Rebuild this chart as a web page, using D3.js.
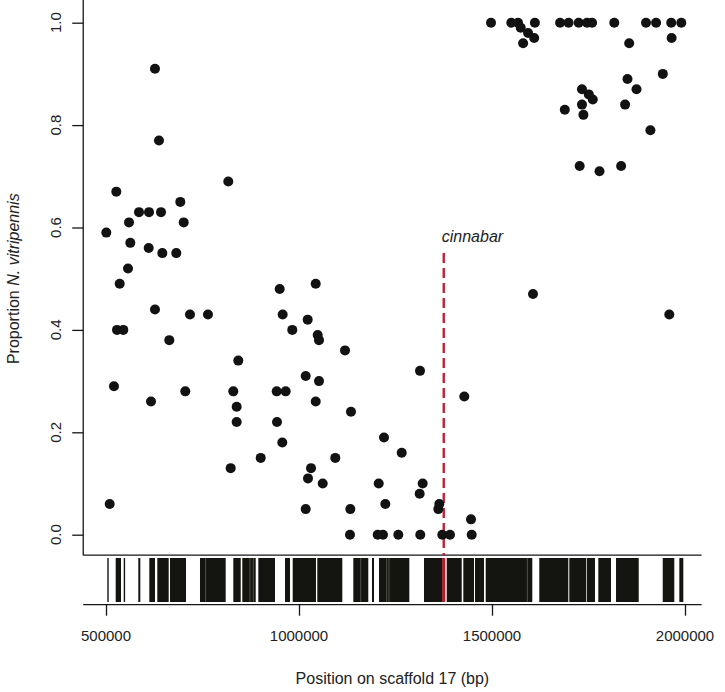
<!DOCTYPE html>
<html>
<head>
<meta charset="utf-8">
<script src="https://cdn.jsdelivr.net/npm/d3@7"></script>
<style>
  html, body { margin: 0; padding: 0; background: #fff; }
  svg { display: block; font-family: "Liberation Sans", Arial, Helvetica, sans-serif; }
</style>
</head>
<body>
<svg id="chart" width="725" height="692"></svg>
<script>
// ---------- data ----------
const pointPos = [
  500800, 509600, 520700, 526700, 535500, 528500, 544800, 557000, 559600, 563000,
  585500, 611400, 642500, 610600, 616600, 626900, 626900, 637300, 645900, 664000,
  682100, 692500, 701300, 705400, 717600, 764200, 816800, 823000, 829800, 838500,
  838500, 842700, 900800, 942200, 943000, 950000, 956700, 957700, 965500, 982600,
  1017400, 1017400, 1022500, 1023300, 1031100, 1043300, 1043300, 1048400, 1051800, 1051800,
  1061400, 1094000, 1119200, 1132100, 1133000, 1134700, 1203900, 1206500, 1217600, 1220200,
  1223600, 1257300, 1266100, 1312600, 1313500, 1314200, 1320400, 1360900, 1363500, 1371200,
  1391200, 1428200, 1445600, 1447400, 1606200, 1959300,
  1497400, 1550000, 1567400, 1574400, 1593500, 1609300, 1611100, 1580600, 1676400, 1698400,
  1724600, 1746400, 1759300, 1816800, 1855400, 1899000, 1925100, 1964300, 1990400, 1965300,
  1942500, 1851000, 1733100, 1750800, 1761100, 1874400, 1688600, 1733100, 1736800, 1844800,
  1910400, 1727200, 1778500, 1834500
];
const pointProp = [
  0.59, 0.06, 0.29, 0.67, 0.49, 0.40, 0.40, 0.52, 0.61, 0.57,
  0.63, 0.63, 0.63, 0.56, 0.26, 0.91, 0.44, 0.77, 0.55, 0.38,
  0.55, 0.65, 0.61, 0.28, 0.43, 0.43, 0.69, 0.13, 0.28, 0.25,
  0.22, 0.34, 0.15, 0.28, 0.22, 0.48, 0.18, 0.43, 0.28, 0.40,
  0.31, 0.05, 0.42, 0.11, 0.13, 0.49, 0.26, 0.39, 0.38, 0.30,
  0.10, 0.15, 0.36, 0.00, 0.05, 0.24, 0.00, 0.10, 0.00, 0.19,
  0.06, 0.00, 0.16, 0.08, 0.32, 0.00, 0.10, 0.05, 0.06, 0.00,
  0.00, 0.27, 0.03, 0.00, 0.47, 0.43,
  1.00, 1.00, 1.00, 0.99, 0.98, 0.97, 1.00, 0.96, 1.00, 1.00,
  1.00, 1.00, 1.00, 1.00, 0.96, 1.00, 1.00, 1.00, 1.00, 0.97,
  0.90, 0.89, 0.87, 0.86, 0.85, 0.87, 0.83, 0.84, 0.82, 0.84,
  0.79, 0.72, 0.71, 0.72
];
// marker blocks along the scaffold (start, end in bp)
const rugStart = [503400, 525100, 545900, 583700, 612200, 632900, 665800, 743500, 829800, 853100,
  894600, 963700, 983700, 1047400, 1140700, 1189100, 1207300, 1323800, 1382700, 1425700,
  1456000, 1483700, 1622500, 1700300, 1745300, 1775400, 1821300, 1942300, 1985300];
const rugEnd = [507000, 538900, 549200, 588900, 626900, 662400, 707300, 810100, 849000, 887800,
  937800, 976700, 1044000, 1112200, 1179500, 1194300, 1285800, 1372200, 1421500, 1453400,
  1479300, 1604400, 1697700, 1743500, 1766800, 1808300, 1880100, 1972300, 1995600];
const rugLight = [758100, 873000, 881600, 1159900, 1227200, 1233200, 1591500];
const cinnabarPos = 1375000;
const xTicks = [500000, 1000000, 1500000, 2000000];
const yTicks = [0, 0.2, 0.4, 0.6, 0.8, 1.0];

// ---------- scales ----------
const svg = d3.select("#chart");
const x = d3.scaleLinear().domain([500000, 2000000]).range([106, 685]);
const y = d3.scaleLinear().domain([0, 1]).range([534.7, 22.7]);
const rugTop = 558, rugBottom = 602, axisY = 604.7;
const ink = "#161616";

// plot frame (L-shaped, R style)
svg.append("line").attr("x1", x(441000)).attr("x2", x(441000))
  .attr("y1", 0).attr("y2", y(-0.04)).attr("stroke", ink).attr("stroke-width", 1.3);
svg.append("line").attr("x1", x(441000)).attr("x2", x(2043000))
  .attr("y1", y(-0.04)).attr("y2", y(-0.04)).attr("stroke", ink).attr("stroke-width", 1.3);

// y axis ticks and labels
const yAxis = d3.axisLeft(y).tickValues(yTicks).tickSize(11).tickFormat("");
const gy = svg.append("g").attr("transform", `translate(${x(441000)},0)`).call(yAxis);
gy.select(".domain").remove();
gy.selectAll("line").attr("stroke", ink).attr("stroke-width", 1.3);
svg.append("g").selectAll("text").data(yTicks).join("text")
  .attr("transform", d => `translate(61,${y(d)}) rotate(-90)`)
  .attr("text-anchor", "middle")
  .attr("font-size", 15).attr("fill", "#222")
  .text(d => d3.format(".1f")(d));

// y title
const yt = svg.append("text")
  .attr("transform", `translate(19,${y(0.5)}) rotate(-90)`)
  .attr("text-anchor", "middle").attr("font-size", 16).attr("fill", "#222");
yt.append("tspan").text("Proportion ");
yt.append("tspan").attr("font-style", "italic").text("N. vitripennis");

// rug of markers
svg.append("g").selectAll("rect").data(d3.range(rugStart.length)).join("rect")
  .attr("x", i => x(rugStart[i]))
  .attr("width", i => Math.max(1.4, x(rugEnd[i]) - x(rugStart[i])))
  .attr("y", rugTop).attr("height", rugBottom - rugTop)
  .attr("fill", "#141410");
svg.append("g").selectAll("line").data(rugLight).join("line")
  .attr("x1", d => x(d)).attr("x2", d => x(d))
  .attr("y1", rugTop).attr("y2", rugBottom)
  .attr("stroke", "#5a5a55").attr("stroke-width", 0.9);
svg.append("rect")
  .attr("x", x(cinnabarPos) - 1.6).attr("width", 3.2)
  .attr("y", rugTop).attr("height", rugBottom - rugTop)
  .attr("fill", "#b11f2e");

// x axis
const xAxis = d3.axisBottom(x).tickValues(xTicks).tickSize(11).tickFormat("");
const gx = svg.append("g").attr("transform", `translate(0,${axisY})`).call(xAxis);
gx.select(".domain").remove();
gx.selectAll("line").attr("stroke", ink).attr("stroke-width", 1.3);
svg.append("line").attr("x1", x(441000)).attr("x2", x(2043000))
  .attr("y1", axisY).attr("y2", axisY).attr("stroke", ink).attr("stroke-width", 1.3);
svg.append("g").selectAll("text").data(xTicks).join("text")
  .attr("x", d => x(d)).attr("y", 641)
  .attr("text-anchor", "middle").attr("font-size", 15).attr("fill", "#222")
  .text(d => d3.format("d")(d));
svg.append("text").attr("x", (x(441000) + x(2043000)) / 2).attr("y", 684)
  .attr("text-anchor", "middle").attr("font-size", 16).attr("fill", "#222")
  .text("Position on scaffold 17 (bp)");

// cinnabar dashed line and label
svg.append("line")
  .attr("x1", x(cinnabarPos)).attr("x2", x(cinnabarPos))
  .attr("y1", y(0.55)).attr("y2", y(-0.04))
  .attr("stroke", "#bf2436").attr("stroke-width", 2.4)
  .attr("stroke-dasharray", "10,5");
svg.append("text").attr("x", x(cinnabarPos) - 2).attr("y", 242)
  .attr("font-size", 16).attr("font-style", "italic").attr("fill", "#222")
  .text("cinnabar");

// points
svg.append("g").selectAll("circle").data(d3.range(pointPos.length)).join("circle")
  .attr("cx", i => x(pointPos[i]))
  .attr("cy", i => y(pointProp[i]))
  .attr("r", 5)
  .attr("fill", "#121212");
</script>
</body>
</html>
